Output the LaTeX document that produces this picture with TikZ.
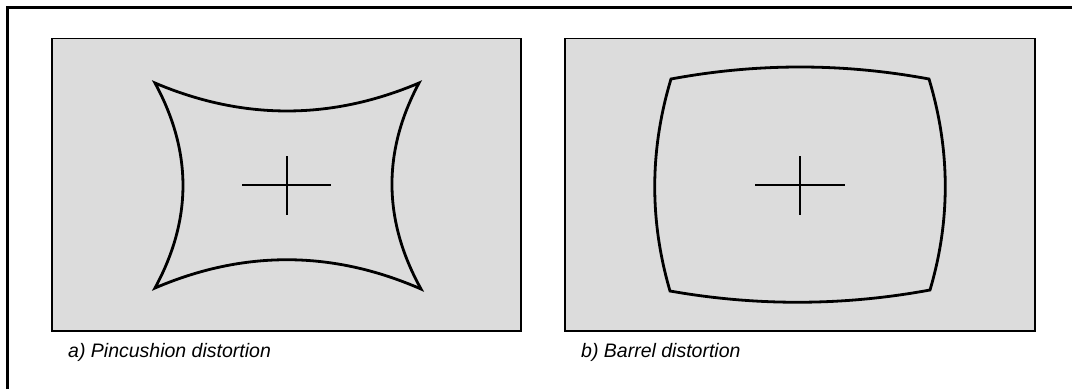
\documentclass[tikz,border=0pt]{standalone}
\usepackage{fontspec}
\setmainfont{Liberation Sans}
\begin{document}
\begin{tikzpicture}[x=1pt,y=-1pt,
  panel/.style={draw=black,line width=1.3pt,fill={rgb,255:red,220;green,220;blue,220}},
  outline/.style={draw=black,line width=2.8pt,line join=miter},
  crosshair/.style={draw=black,line width=1.6pt},
  caption/.style={anchor=base west,inner sep=0pt,font=\fontsize{19.5}{23}\selectfont\itshape}]
\useasboundingbox (0,0) rectangle (1072,389);

% frame (top and left edges only)
\draw[line width=2.7pt] (7.3,389) -- (7.3,7.3) -- (1072,7.3);

% panels
\draw[panel] (52,38.5) rectangle (521,331);
\draw[panel] (565,38.5) rectangle (1035,331);

% pincushion outline (quadratic arcs written as cubics)
\draw[outline] (155,83)
  .. controls (243,120.3) and (331,120.3) .. (419,83)
  .. controls (382.3,151.7) and (383,220.3) .. (421,289)
  .. controls (332.3,250.3) and (243.7,250) .. (155,288)
  .. controls (192.3,219.3) and (192.3,151.7) .. cycle;
% centre cross (left)
\draw[crosshair] (242,185) -- (331,185);
\draw[crosshair] (287,156) -- (287,215);

% barrel outline
\draw[outline] (671,79)
  .. controls (757,63) and (843,63) .. (929,79)
  .. controls (950.3,149.7) and (950.7,220) .. (930,290)
  .. controls (843.3,306) and (756.7,306.3) .. (670,291)
  .. controls (649.3,220.3) and (649.7,149.7) .. cycle;
% centre cross (right)
\draw[crosshair] (755,185) -- (845,185);
\draw[crosshair] (800,156) -- (800,215);

% captions
\node[caption] (capA) at (68,357) {a) Pincushion distortion};
\node[caption] (capB) at (581,357) {b) Barrel distortion};
\end{tikzpicture}
\end{document}
